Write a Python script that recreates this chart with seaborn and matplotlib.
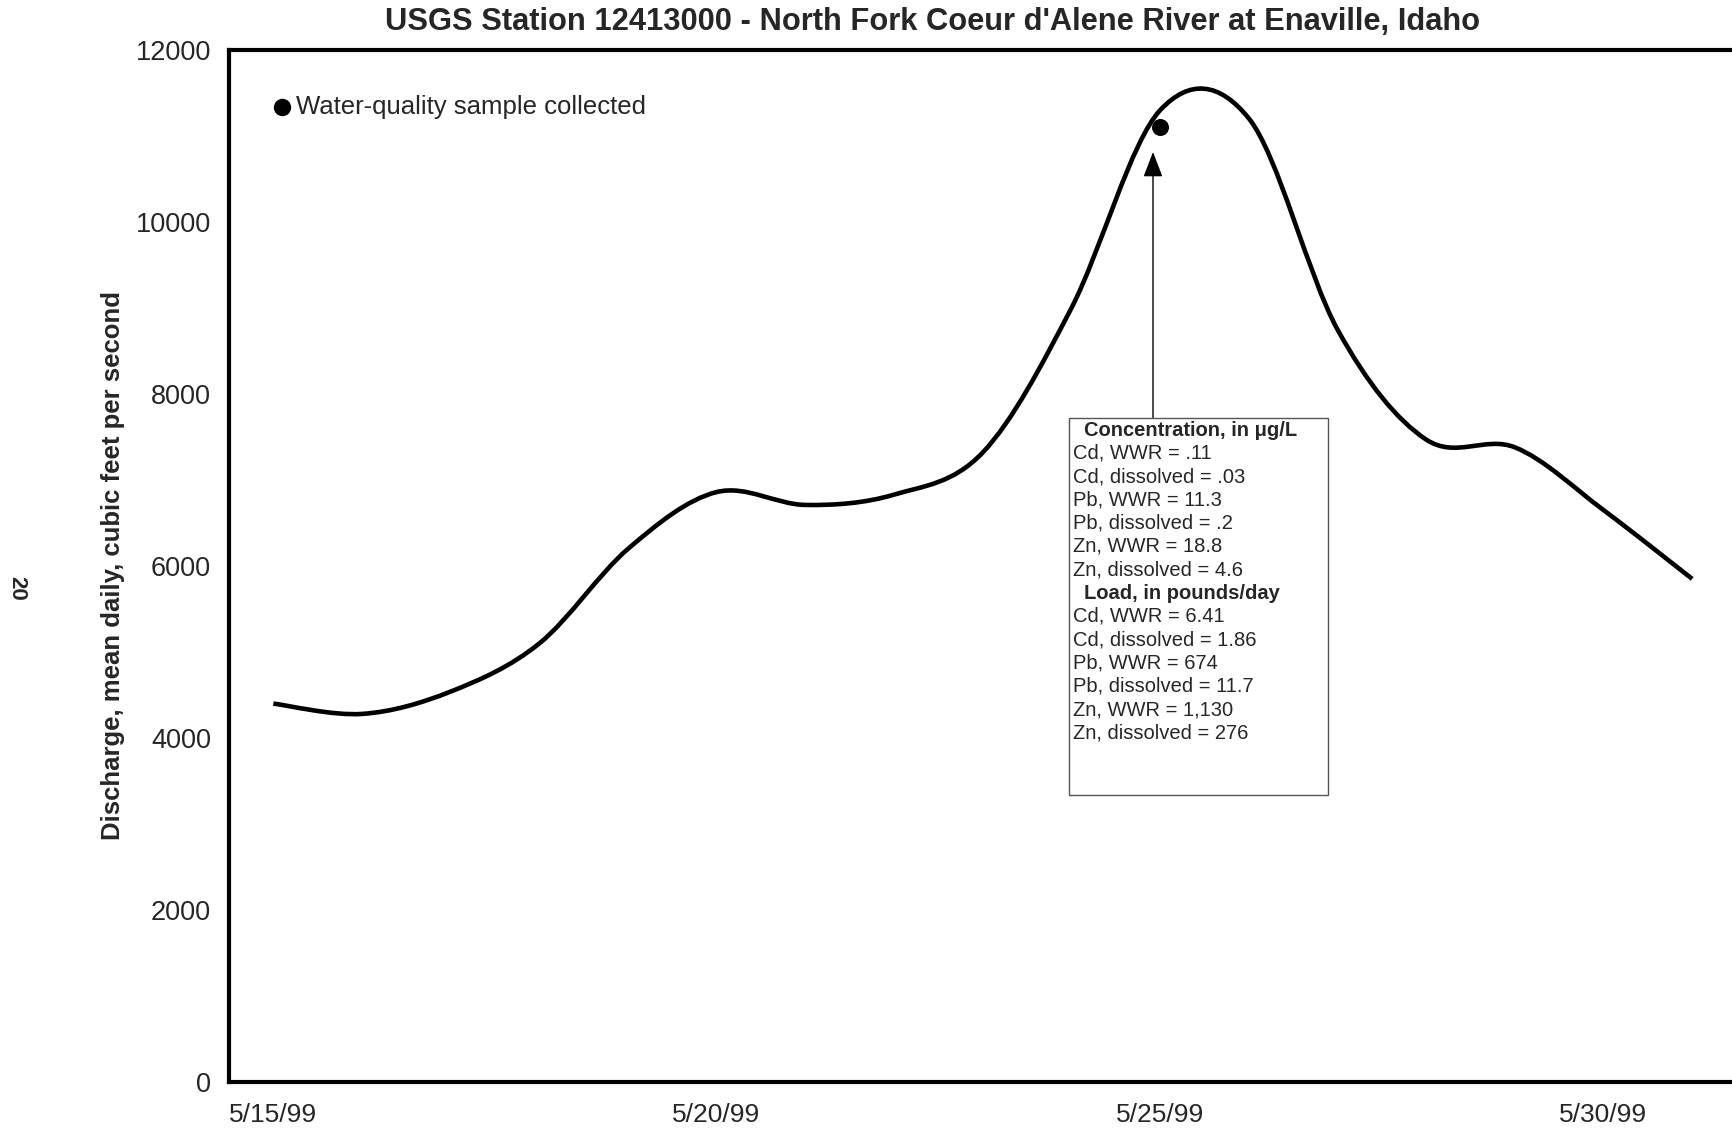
import numpy as np
import pandas as pd
import matplotlib
matplotlib.use("Agg")
import matplotlib.pyplot as plt
from matplotlib.path import Path
from matplotlib.patches import PathPatch, Rectangle
import seaborn as sns

# ---- data ----
day_index = list(range(17))  # 5/15/99 .. 5/31/99
dates = ["5/15/99", "5/16/99", "5/17/99", "5/18/99", "5/19/99", "5/20/99", "5/21/99",
         "5/22/99", "5/23/99", "5/24/99", "5/25/99", "5/26/99", "5/27/99", "5/28/99",
         "5/29/99", "5/30/99", "5/31/99"]
discharge = [4400, 4280, 4540, 5100, 6200, 6860, 6710, 6830, 7320, 9000,
             11300, 11205, 8750, 7470, 7380, 6650, 5850]
sample_day = [10]
sample_value = [11110]
xtick_days = [0, 5, 10, 15]
xtick_labels = ["5/15/99", "5/20/99", "5/25/99", "5/30/99"]
yticks = [0, 2000, 4000, 6000, 8000, 10000, 12000]

conc_title = "Concentration, in \u03bcg/L"
conc_lines = ["Cd, WWR = .11", "Cd, dissolved = .03", "Pb, WWR = 11.3",
              "Pb, dissolved = .2", "Zn, WWR = 18.8", "Zn, dissolved = 4.6"]
load_title = "Load, in pounds/day"
load_lines = ["Cd, WWR = 6.41", "Cd, dissolved = 1.86", "Pb, WWR = 674",
              "Pb, dissolved = 11.7", "Zn, WWR = 1,130", "Zn, dissolved = 276"]

title = "USGS Station 12413000 - North Fork Coeur d'Alene River at Enaville, Idaho"
ylabel = "Discharge, mean daily, cubic feet per second"
legend_text = "Water-quality sample collected"

# ---- style ----
sns.set_theme(style="white")
plt.rcParams['font.family'] = ['Liberation Sans', 'DejaVu Sans']

W, H = 1733, 1131
fig = plt.figure(figsize=(W / 100, H / 100), dpi=100)
fig.patch.set_facecolor("white")

def fx(px):
    return px / W

def fy(py):
    return 1 - py / H

ax = fig.add_axes([fx(229), fy(1082), 1 - fx(229), fy(50) - fy(1082)])
ax.set_facecolor("white")

df = pd.DataFrame({"day": np.array(day_index) + 0.5, "discharge": discharge})

# smoothed line (Excel-style Bezier smoothing through the data points)
xs = df["day"].to_numpy()
ys = df["discharge"].to_numpy(dtype=float)
n = len(xs)
verts = [(xs[0], ys[0])]
codes = [Path.MOVETO]
for i in range(n - 1):
    xm1, ym1 = (xs[i - 1], ys[i - 1]) if i > 0 else (xs[i], ys[i])
    xp2, yp2 = (xs[i + 2], ys[i + 2]) if i + 2 < n else (xs[i + 1], ys[i + 1])
    c1 = (xs[i] + (xs[i + 1] - xm1) / 6, ys[i] + (ys[i + 1] - ym1) / 6)
    c2 = (xs[i + 1] - (xp2 - xs[i]) / 6, ys[i + 1] - (yp2 - ys[i]) / 6)
    verts += [c1, c2, (xs[i + 1], ys[i + 1])]
    codes += [Path.CURVE4] * 3
ax.add_patch(PathPatch(Path(verts, codes), facecolor="none", edgecolor="black",
                       lw=3.3, capstyle="butt", joinstyle="round", zorder=3))

# sample point
sdf = pd.DataFrame({"day": np.array(sample_day) + 0.5, "value": sample_value})
sns.scatterplot(data=sdf, x="day", y="value", ax=ax, color="black", s=150,
                edgecolor="black", linewidth=0, zorder=4, legend=False)

ax.set_xlim(0, 16.96)
ax.set_ylim(0, 12000)
ax.set_xticks(xtick_days)
ax.set_xticklabels(xtick_labels, ha="left")
ax.set_yticks(yticks)
ax.set_yticklabels([str(v) for v in yticks])
ax.tick_params(axis="x", direction="in", length=9, width=0.8, color="#555555",
               labelsize=19, pad=15)
ax.tick_params(axis="y", direction="in", length=8, width=0.8, color="#555555",
               labelsize=19.5, pad=13)
ax.set_xlabel("")
ax.set_ylabel("")
for s in ["left", "top", "bottom"]:
    ax.spines[s].set_visible(True)
    ax.spines[s].set_linewidth(3.0)
    ax.spines[s].set_color("black")
ax.spines["right"].set_visible(False)

# title, y label, page number
fig.text(fx(933), fy(22), title, ha="center", va="center", fontsize=22.2,
         fontweight="bold")
fig.text(fx(113), fy(565), ylabel, ha="center", va="center", rotation=90,
         fontsize=18.5, fontweight="bold")
fig.text(fx(17), fy(588), "20", ha="center", va="center", rotation=-90,
         fontsize=16, fontweight="bold")

# legend
fig.lines.append(plt.Line2D([fx(282)], [fy(107)], marker="o", markersize=11.5,
                            color="black", transform=fig.transFigure))
fig.text(fx(296), fy(107), legend_text, ha="left", va="center", fontsize=18.5)

# annotation box
fig.patches.append(Rectangle((fx(1069), fy(795)), fx(1328) - fx(1069), fy(418) - fy(795),
                             transform=fig.transFigure, facecolor="white",
                             edgecolor="#555555", lw=1.0, zorder=5))
ax.annotate("", xy=(fx(1153), fy(152)), xytext=(fx(1153), fy(418)),
            xycoords="figure fraction", textcoords="figure fraction",
            arrowprops=dict(arrowstyle="-|>,head_length=1.3,head_width=0.5",
                            color="black", lw=1.0, shrinkA=0, shrinkB=0))

row0 = 430
dy = 23.3
rows = [(conc_title, True)] + [(t, False) for t in conc_lines] + \
       [(load_title, True)] + [(t, False) for t in load_lines]
for k, (txt, bold) in enumerate(rows):
    xpos = 1084 if bold else 1073
    fig.text(fx(xpos), fy(row0 + dy * k), txt, ha="left", va="center",
             fontsize=14.5, fontweight="bold" if bold else "normal", zorder=6)

fig.savefig("out.png", dpi=100)
